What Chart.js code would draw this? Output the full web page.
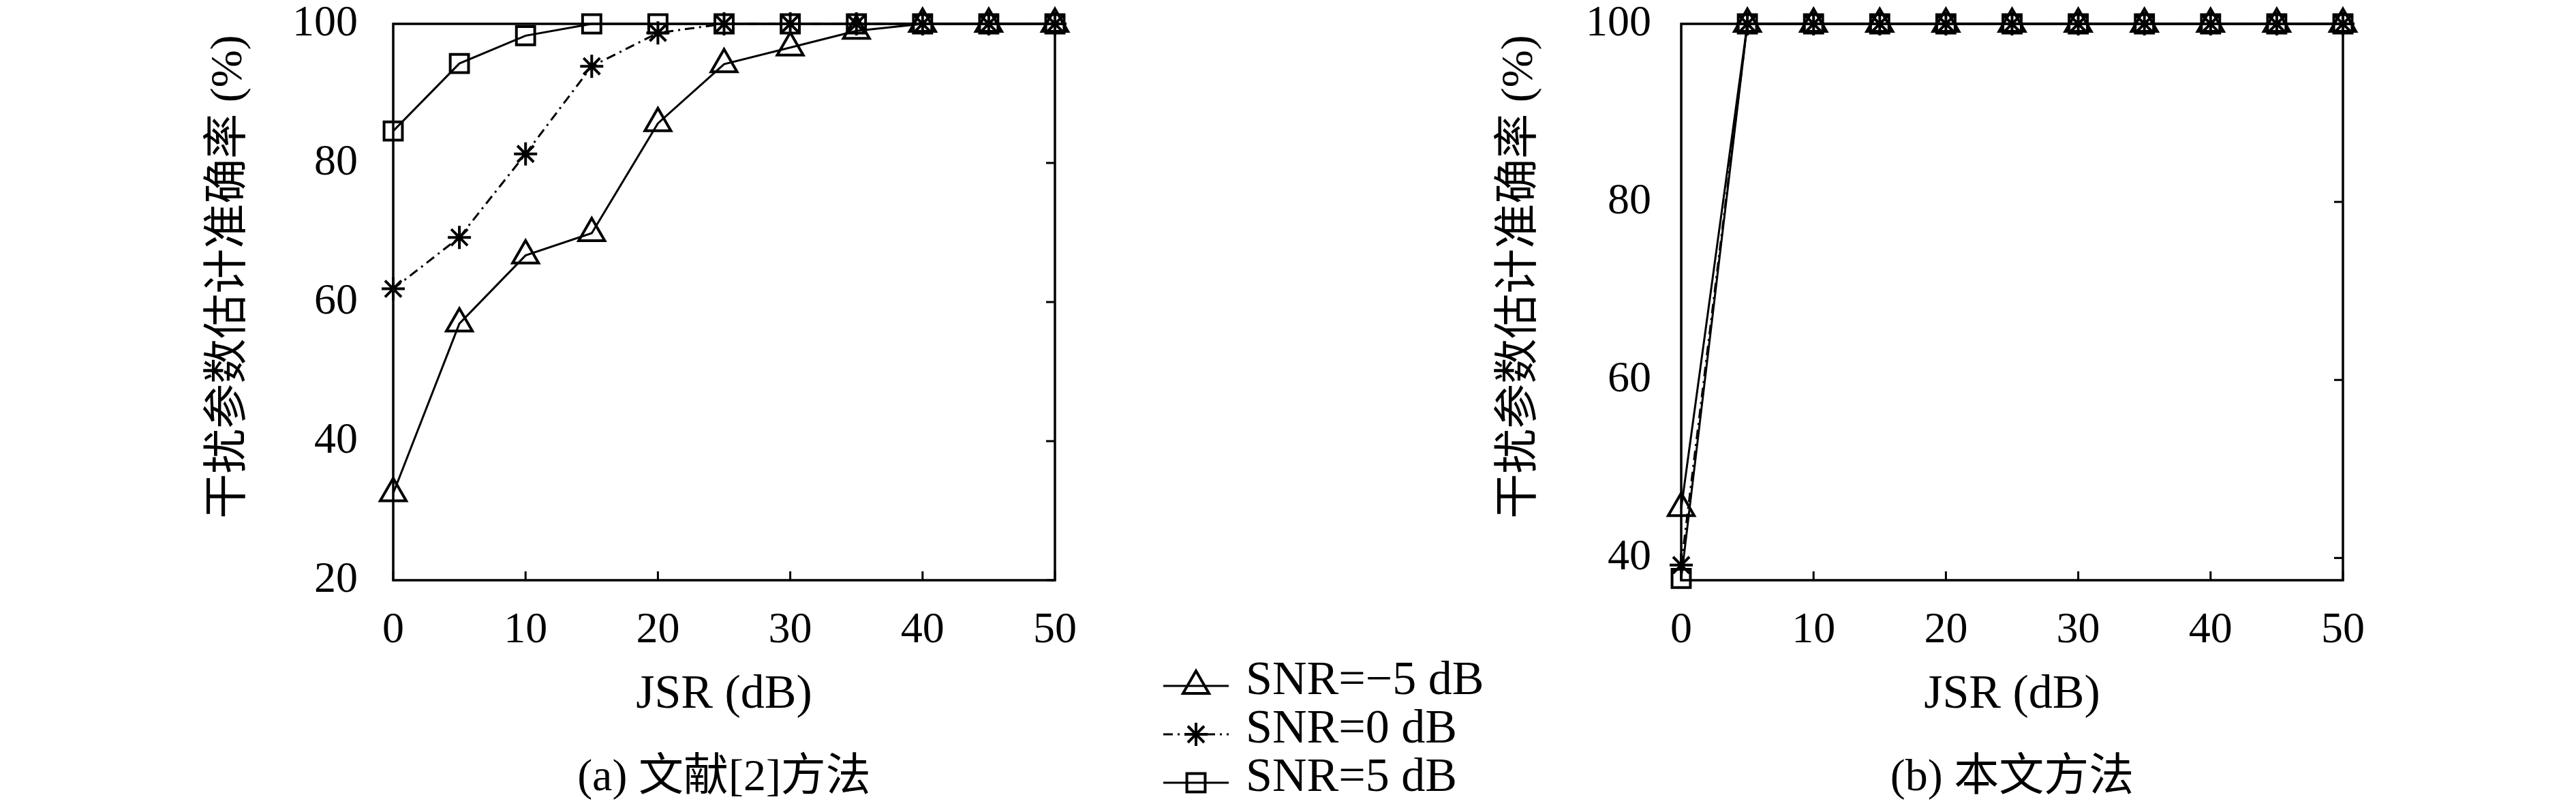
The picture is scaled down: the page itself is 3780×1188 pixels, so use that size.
<!DOCTYPE html>
<html><head><meta charset="utf-8">
<script src="https://cdn.jsdelivr.net/npm/chart.js@4/dist/chart.umd.min.js"></script>
<style>
html,body{margin:0;padding:0;background:#fff;width:3780px;height:1188px;overflow:hidden}
canvas{position:absolute;left:0;top:0}
</style></head><body>
<canvas id="chartA" width="3780" height="1188"></canvas>
<canvas id="chartB" width="3780" height="1188"></canvas>
<script>
// ---- data ----
const jsr = [0, 5, 10, 15, 20, 25, 30, 35, 40, 45, 50];
const xTickValues = [0, 10, 20, 30, 40, 50];
const yTickValuesA = [20, 40, 60, 80, 100];
const yTickValuesB = [40, 60, 80, 100];
const seriesNames = ['SNR=\u22125 dB', 'SNR=0 dB', 'SNR=5 dB'];
// (a) 文献[2]方法
const refSnrM5 = [32.5, 56.9, 66.7, 69.9, 85.7, 94.2, 96.6, 99.0, 100, 100, 100];
const refSnr0  = [61.9, 69.3, 81.3, 93.9, 98.7, 100, 100, 100, 100, 100, 100];
const refSnr5  = [84.6, 94.3, 98.3, 100, 100, 100, 100, 100, 100, 100, 100];
// (b) 本文方法
const oursSnrM5 = [45.6, 100, 100, 100, 100, 100, 100, 100, 100, 100, 100];
const oursSnr0  = [39.2, 100, 100, 100, 100, 100, 100, 100, 100, 100, 100];
const oursSnr5  = [37.7, 100, 100, 100, 100, 100, 100, 100, 100, 100, 100];
const xTitle = 'JSR (dB)';
const yTitle = '干扰参数估计准确率 (%)';
const captionA = '(a) 文献[2]方法';
const captionB = '(b) 本文方法';

// ---- styles ----
const seriesStyles = [
  { pointStyle: 'triangle', radius: 22, dash: [] },
  { pointStyle: 'star', radius: 17, dash: [14, 7, 3, 7] },
  { pointStyle: 'rect', radius: 19, dash: [] }
];
const SERIF = '"Liberation Serif", "Noto Sans CJK SC", serif';
const tickFont = { family: SERIF, size: 64, lineHeight: 1 };

const framePlugin = {
  id: 'frame',
  afterDatasetsDraw(chart, args, opts) {
    const { ctx, chartArea: a, scales } = chart;
    ctx.save();
    ctx.strokeStyle = '#000';
    ctx.lineWidth = 3.5;
    ctx.setLineDash([]);
    ctx.strokeRect(a.left, a.top, a.right - a.left, a.bottom - a.top);
    ctx.lineWidth = 3;
    const tl = 13;
    scales.y.ticks.forEach(t => {
      const y = scales.y.getPixelForValue(t.value);
      ctx.beginPath(); ctx.moveTo(a.right, y); ctx.lineTo(a.right - tl, y); ctx.stroke();
    });
    scales.x.ticks.forEach(t => {
      const x = scales.x.getPixelForValue(t.value);
      ctx.beginPath(); ctx.moveTo(x, a.bottom); ctx.lineTo(x, a.bottom - tl); ctx.stroke();
    });
    ctx.restore();
  },
  afterDraw(chart, args, opts) {
    const { ctx, chartArea: a } = chart;
    const cx = (a.left + a.right) / 2;
    ctx.save();
    ctx.fillStyle = '#000';
    ctx.textAlign = 'center';
    ctx.textBaseline = 'middle';
    ctx.font = '70px ' + SERIF;
    ctx.fillText(xTitle, cx, 1020);
    ctx.font = '66px ' + SERIF;
    ctx.fillText(opts.caption, cx, 1142);
    ctx.translate(opts.yTitleX, 406);
    ctx.rotate(-Math.PI / 2);
    ctx.font = '66px ' + SERIF;
    ctx.fillText(yTitle, 0, 0);
    ctx.restore();
  }
};

const legendPlugin = {
  id: 'customLegend',
  afterDraw(chart) {
    const { ctx } = chart;
    const rows = [1000, 1071, 1142];
    ctx.save();
    chart.data.datasets.forEach((ds, i) => {
      const y = rows[i];
      ctx.strokeStyle = '#000';
      ctx.lineWidth = 3;
      ctx.setLineDash(ds.borderDash || []);
      ctx.beginPath(); ctx.moveTo(1707, y + 6); ctx.lineTo(1803, y + 6); ctx.stroke();
      ctx.setLineDash([]);
      ctx.lineWidth = ds.pointBorderWidth;
      ctx.fillStyle = 'rgba(0,0,0,0)';
      Chart.helpers.drawPoint(ctx, { pointStyle: ds.pointStyle, radius: ds.pointRadius, rotation: 0, borderWidth: ds.pointBorderWidth }, 1755, y + 6);
      ctx.fillStyle = '#000';
      ctx.font = '70px ' + SERIF;
      ctx.textAlign = 'left';
      ctx.textBaseline = 'middle';
      ctx.fillText(ds.label, 1828, y);
    });
    ctx.restore();
  }
};

function makeChart(id, seriesList, yMin, yTicks, box, extraPlugins) {
  const datasets = seriesList.map((vals, i) => ({
    label: seriesNames[i],
    data: jsr.map((x, j) => ({ x: x, y: vals[j] })),
    borderColor: '#000',
    borderWidth: 3,
    borderDash: seriesStyles[i].dash,
    pointStyle: seriesStyles[i].pointStyle,
    pointRadius: seriesStyles[i].radius,
    pointBorderWidth: 4,
    pointBorderColor: '#000',
    pointBackgroundColor: 'rgba(0,0,0,0)',
    tension: 0,
    fill: false,
    clip: false
  }));
  return new Chart(document.getElementById(id), {
    type: 'line',
    data: { datasets },
    options: {
      responsive: false,
      animation: false,
      devicePixelRatio: 1,
      events: [],
      layout: { autoPadding: false, padding: { left: 0, top: box.top, right: 3780 - box.right, bottom: 1188 - box.bottom - 120 } },
      plugins: {
        legend: { display: false },
        tooltip: { enabled: false },
        frame: { caption: box.caption, yTitleX: box.yTitleX }
      },
      scales: {
        x: {
          type: 'linear', min: 0, max: 50,
          grid: { display: false, drawTicks: false },
          border: { display: false },
          afterBuildTicks: s => { s.ticks = xTickValues.map(v => ({ value: v })); },
          ticks: { font: tickFont, color: '#000', padding: 42, maxRotation: 0, autoSkip: false },
          afterFit: s => { s.height = 120; s.paddingLeft = 0; s.paddingRight = 0; }
        },
        y: {
          type: 'linear', min: yMin, max: 100,
          grid: { display: false, drawTicks: false },
          border: { display: false },
          afterBuildTicks: s => { s.ticks = yTicks.map(v => ({ value: v })); },
          ticks: { font: tickFont, color: '#000', padding: box.labelGap, autoSkip: false },
          afterFit: s => { s.width = box.left; s.paddingTop = 0; s.paddingBottom = 0; }
        }
      }
    },
    plugins: [framePlugin].concat(extraPlugins)
  });
}

makeChart('chartA', [refSnrM5, refSnr0, refSnr5], 20, yTickValuesA,
  { left: 577, right: 1548, top: 35, bottom: 851, labelGap: 52, caption: captionA, yTitleX: 337 },
  [legendPlugin]);
makeChart('chartB', [oursSnrM5, oursSnr0, oursSnr5], 37.5, yTickValuesB,
  { left: 2467, right: 3438, top: 35, bottom: 851, labelGap: 44, caption: captionB, yTitleX: 2231 },
  []);
</script>
</body></html>
